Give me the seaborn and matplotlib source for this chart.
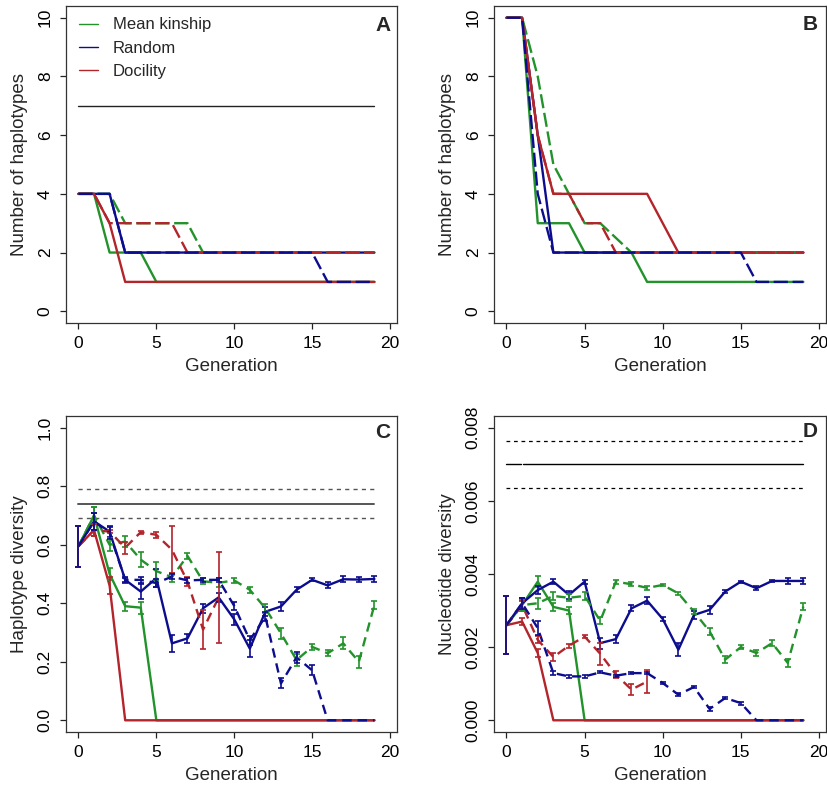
import numpy as np
import pandas as pd
import matplotlib
matplotlib.use("Agg")
import matplotlib.pyplot as plt
from matplotlib.lines import Line2D
import seaborn as sns

# ---------------------------------------------------------------- data
generation = list(range(20))
strategies = ["Mean kinship", "Random", "Docility"]
colors = {"Mean kinship": "#22922B", "Random": "#0C0C8E", "Docility": "#B3242B"}

# Panel A: number of haplotypes (solid / dashed scenarios)
hapA_kinship_solid = [4, 4, 2, 2, 2, 1, 1, 1, 1, 1, 1, 1, 1, 1, 1, 1, 1, 1, 1, 1]
hapA_random_solid = [4, 4, 4, 2, 2, 2, 2, 2, 2, 2, 2, 2, 2, 2, 2, 2, 2, 2, 2, 2]
hapA_docility_solid = [4, 4, 3, 1, 1, 1, 1, 1, 1, 1, 1, 1, 1, 1, 1, 1, 1, 1, 1, 1]
hapA_kinship_dashed = [4, 4, 4, 3, 3, 3, 3, 3, 2, 2, 2, 2, 2, 2, 2, 2, 2, 2, 2, 2]
hapA_random_dashed = [4, 4, 4, 2, 2, 2, 2, 2, 2, 2, 2, 2, 2, 2, 2, 2, 1, 1, 1, 1]
hapA_docility_dashed = [4, 4, 3, 3, 3, 3, 3, 2, 2, 2, 2, 2, 2, 2, 2, 2, 2, 2, 2, 2]
hapA_reference = 7

# Panel B: number of haplotypes
hapB_kinship_solid = [10, 10, 3, 3, 3, 2, 2, 2, 2, 1, 1, 1, 1, 1, 1, 1, 1, 1, 1, 1]
hapB_random_solid = [10, 10, 6, 2, 2, 2, 2, 2, 2, 2, 2, 2, 2, 2, 2, 2, 2, 2, 2, 2]
hapB_docility_solid = [10, 10, 6, 4, 4, 4, 4, 4, 4, 4, 3, 2, 2, 2, 2, 2, 2, 2, 2, 2]
hapB_kinship_dashed = [10, 10, 8, 5, 4, 3, 3, 2.5, 2, 2, 2, 2, 2, 2, 2, 2, 2, 2, 2, 2]
hapB_random_dashed = [10, 10, 4, 2, 2, 2, 2, 2, 2, 2, 2, 2, 2, 2, 2, 2, 1, 1, 1, 1]
hapB_docility_dashed = [10, 10, 6, 4, 4, 3, 3, 2, 2, 2, 2, 2, 2, 2, 2, 2, 2, 2, 2, 2]

# Panel C: haplotype diversity (mean and error)
hdC_reference = 0.74
hdC_reference_low = 0.69
hdC_reference_high = 0.79
hdC_kinship_solid = [0.595, 0.70, 0.50, 0.39, 0.385, 0, 0, 0, 0, 0, 0, 0, 0, 0, 0, 0, 0, 0, 0, 0]
hdC_kinship_solid_err = [0.07, 0.03, 0.02, 0.015, 0.02, 0, 0, 0, 0, 0, 0, 0, 0, 0, 0, 0, 0, 0, 0, 0]
hdC_random_solid = [0.595, 0.68, 0.645, 0.48, 0.44, 0.486, 0.263, 0.28, 0.383, 0.42,
                    0.345, 0.245, 0.371, 0.389, 0.446, 0.48, 0.461, 0.482, 0.481, 0.483]
hdC_random_solid_err = [0.07, 0.03, 0.02, 0.01, 0.025, 0.03, 0.03, 0.015, 0.015, 0.015,
                        0.02, 0.03, 0.015, 0.015, 0.008, 0.005, 0.01, 0.01, 0.01, 0.01]
hdC_docility_solid = [0.595, 0.65, 0.46, 0, 0, 0, 0, 0, 0, 0, 0, 0, 0, 0, 0, 0, 0, 0, 0, 0]
hdC_docility_solid_err = [0.07, 0.02, 0.03, 0, 0, 0, 0, 0, 0, 0, 0, 0, 0, 0, 0, 0, 0, 0, 0, 0]
hdC_kinship_dashed = [0.595, 0.70, 0.60, 0.611, 0.549, 0.51, 0.489, 0.562, 0.475, 0.47,
                      0.478, 0.446, 0.383, 0.297, 0.206, 0.251, 0.229, 0.263, 0.20, 0.394]
hdC_kinship_dashed_err = [0.07, 0.03, 0.023, 0.02, 0.025, 0.03, 0.015, 0.01, 0.01, 0.015,
                          0.008, 0.01, 0.015, 0.02, 0.02, 0.01, 0.01, 0.02, 0.02, 0.015]
hdC_random_dashed = [0.595, 0.68, 0.64, 0.48, 0.48, 0.469, 0.491, 0.478, 0.48, 0.48,
                     0.391, 0.274, 0.354, 0.126, 0.215, 0.171, 0, 0, 0, 0]
hdC_random_dashed_err = [0.07, 0.03, 0.02, 0.008, 0.01, 0.015, 0.008, 0.008, 0.006, 0.008,
                         0.015, 0.015, 0.015, 0.017, 0.02, 0.017, 0, 0, 0, 0]
hdC_docility_dashed = [0.595, 0.65, 0.645, 0.59, 0.643, 0.634, 0.583, 0.474, 0.31, 0.42,
                       np.nan, np.nan, np.nan, np.nan, np.nan, np.nan, np.nan, np.nan, np.nan, np.nan]
hdC_docility_dashed_err = [0.07, 0.02, 0.005, 0.02, 0.005, 0.01, 0.08, 0.015, 0.068, 0.155,
                           0, 0, 0, 0, 0, 0, 0, 0, 0, 0]

# Panel D: nucleotide diversity (x 1e-3, mean and error)
ndD_reference = 7.0
ndD_reference_low = 6.35
ndD_reference_high = 7.65
ndD_kinship_solid = [2.6, 3.15, 3.79, 3.1, 3.0, 0, 0, 0, 0, 0, 0, 0, 0, 0, 0, 0, 0, 0, 0, 0]
ndD_kinship_solid_err = [0.8, 0.15, 0.15, 0.1, 0.1, 0, 0, 0, 0, 0, 0, 0, 0, 0, 0, 0, 0, 0, 0, 0]
ndD_random_solid = [2.6, 3.2, 3.56, 3.79, 3.43, 3.79, 2.11, 2.22, 3.06, 3.27,
                    2.77, 1.93, 2.88, 3.02, 3.52, 3.79, 3.61, 3.81, 3.81, 3.81]
ndD_random_solid_err = [0.8, 0.15, 0.1, 0.06, 0.1, 0.05, 0.15, 0.12, 0.08, 0.1,
                        0.05, 0.17, 0.1, 0.1, 0.05, 0.03, 0.06, 0.03, 0.08, 0.08]
ndD_docility_solid = [2.6, 2.7, 1.84, 0, 0, 0, 0, 0, 0, 0, 0, 0, 0, 0, 0, 0, 0, 0, 0, 0]
ndD_docility_solid_err = [0.8, 0.1, 0.1, 0, 0, 0, 0, 0, 0, 0, 0, 0, 0, 0, 0, 0, 0, 0, 0, 0]
ndD_kinship_dashed = [2.6, 3.15, 3.2, 3.4, 3.35, 3.4, 2.72, 3.79, 3.72, 3.62,
                      3.70, 3.47, 2.97, 2.43, 1.66, 2.0, 1.84, 2.11, 1.57, 3.11]
ndD_kinship_dashed_err = [0.8, 0.15, 0.15, 0.12, 0.1, 0.1, 0.1, 0.05, 0.05, 0.05,
                          0.03, 0.05, 0.07, 0.1, 0.1, 0.05, 0.07, 0.08, 0.1, 0.1]
ndD_random_dashed = [2.6, 3.2, 2.52, 1.29, 1.2, 1.2, 1.31, 1.22, 1.29, 1.29,
                     1.02, 0.70, 0.91, 0.31, 0.61, 0.47, 0, 0, 0, 0]
ndD_random_dashed_err = [0.8, 0.15, 0.2, 0.05, 0.04, 0.04, 0.03, 0.03, 0.03, 0.03,
                         0.04, 0.04, 0.03, 0.05, 0.03, 0.04, 0, 0, 0, 0]
ndD_docility_dashed = [2.6, 3.15, 2.2, 1.73, 2.04, 2.29, 1.82, 1.25, 0.84, 1.06,
                       np.nan, np.nan, np.nan, np.nan, np.nan, np.nan, np.nan, np.nan, np.nan, np.nan]
ndD_docility_dashed_err = [0.8, 0.1, 0.1, 0.1, 0.05, 0.05, 0.3, 0.1, 0.15, 0.32,
                           0, 0, 0, 0, 0, 0, 0, 0, 0, 0]

# ---------------------------------------------------------------- style
sns.set_style("ticks")
plt.rcParams["font.family"] = ["Liberation Sans", "DejaVu Sans"]
plt.rcParams["axes.edgecolor"] = "#333333"
plt.rcParams["axes.linewidth"] = 0.9

LABEL_SIZE = 13.5
TICK_SIZE = 12.5
LW = 1.7

fig = plt.figure(figsize=(8.28, 7.91), dpi=100)
W, H = 828.0, 791.0


def add_panel(left, top, right, bottom):
    return fig.add_axes([left / W, 1 - bottom / H, (right - left) / W, (bottom - top) / H])


axA = add_panel(66, 6, 397, 323)
axB = add_panel(494, 6, 826, 323)
axC = add_panel(66, 416, 397, 732)
axD = add_panel(494, 416, 826, 732)


def draw_series(ax, values, color, dashed, err=None, scale=1.0, dash=(5, 2)):
    y = np.asarray(values, dtype=float) * scale
    df = pd.DataFrame({"Generation": generation, "value": y})
    ls = (0, dash) if dashed else "-"
    sns.lineplot(data=df, x="Generation", y="value", color=color, lw=LW,
                 linestyle=ls, estimator=None, sort=False, ax=ax)
    if err is not None:
        e = np.asarray(err, dtype=float) * scale
        keep = (e > 0) & ~np.isnan(y)
        x = np.asarray(generation)[keep]
        ax.errorbar(x, y[keep], yerr=e[keep], fmt="none", ecolor=color,
                    elinewidth=1.2, capsize=2.2, capthick=1.2, zorder=3)


def style_axes(ax, ylim, yticks, yticklabels, ylabel, letter, letter_xy):
    ax.set_xlim(-0.8, 20.45)
    ax.set_ylim(*ylim)
    ax.set_xticks([0, 5, 10, 15, 20])
    ax.set_yticks(yticks)
    ax.set_yticklabels(yticklabels)
    for lbl in ax.get_yticklabels():
        lbl.set_rotation(90)
        lbl.set_va("center")
    ax.tick_params(axis="both", direction="out", length=4.5, width=0.9,
                   labelsize=TICK_SIZE, pad=5, colors="#222222", labelcolor="black")
    ax.set_xlabel("Generation", fontsize=LABEL_SIZE, labelpad=5)
    ax.set_ylabel(ylabel, fontsize=LABEL_SIZE, labelpad=7)
    for sp in ax.spines.values():
        sp.set_visible(True)
    ax.text(letter_xy[0], letter_xy[1], letter, transform=ax.transAxes,
            ha="right", va="top", fontsize=15, fontweight="bold")


# ---------------------------------------------------------------- panel A
axA.plot([0, 19], [hapA_reference, hapA_reference], color="#222222", lw=1.0)
draw_series(axA, hapA_kinship_solid, colors["Mean kinship"], False)
draw_series(axA, hapA_random_solid, colors["Random"], False)
draw_series(axA, hapA_docility_solid, colors["Docility"], False)
draw_series(axA, hapA_kinship_dashed, colors["Mean kinship"], True, dash=(6, 2))
draw_series(axA, hapA_docility_dashed, colors["Docility"], True, dash=(6, 2))
draw_series(axA, hapA_random_dashed, colors["Random"], True, dash=(6, 2))
style_axes(axA, (-0.4, 10.4), [0, 2, 4, 6, 8, 10], ["0", "2", "4", "6", "8", "10"],
           "Number of haplotypes", "A", (0.982, 0.968))
handles = [Line2D([], [], color=colors[s], lw=1.0) for s in strategies]
axA.legend(handles, strategies, loc="upper left", bbox_to_anchor=(0.02, 0.985),
           frameon=False, fontsize=12, handlelength=1.1, handletextpad=0.9,
           labelspacing=0.5, borderaxespad=0)

# ---------------------------------------------------------------- panel B
draw_series(axB, hapB_kinship_solid, colors["Mean kinship"], False)
draw_series(axB, hapB_random_solid, colors["Random"], False)
draw_series(axB, hapB_docility_solid, colors["Docility"], False)
draw_series(axB, hapB_kinship_dashed, colors["Mean kinship"], True, dash=(6, 2))
draw_series(axB, hapB_docility_dashed, colors["Docility"], True, dash=(6, 2))
draw_series(axB, hapB_random_dashed, colors["Random"], True, dash=(6, 2))
style_axes(axB, (-0.4, 10.4), [0, 2, 4, 6, 8, 10], ["0", "2", "4", "6", "8", "10"],
           "Number of haplotypes", "B", (0.976, 0.972))

# ---------------------------------------------------------------- panel C
for level, ls, lw in [(hdC_reference_high, (0, (3, 3)), 1.0),
                      (hdC_reference, "-", 1.4),
                      (hdC_reference_low, (0, (3, 3)), 1.0)]:
    axC.plot([0, 19], [level, level], color="#555555", lw=lw, linestyle=ls)
draw_series(axC, hdC_kinship_solid, colors["Mean kinship"], False, hdC_kinship_solid_err)
draw_series(axC, hdC_random_solid, colors["Random"], False, hdC_random_solid_err)
draw_series(axC, hdC_docility_solid, colors["Docility"], False, hdC_docility_solid_err)
draw_series(axC, hdC_kinship_dashed, colors["Mean kinship"], True, hdC_kinship_dashed_err, dash=(4, 2.5))
draw_series(axC, hdC_docility_dashed, colors["Docility"], True, hdC_docility_dashed_err, dash=(4, 2.5))
draw_series(axC, hdC_random_dashed, colors["Random"], True, hdC_random_dashed_err, dash=(4, 2.5))
style_axes(axC, (-0.04, 1.04), [0, 0.2, 0.4, 0.6, 0.8, 1.0],
           ["0.0", "0.2", "0.4", "0.6", "0.8", "1.0"],
           "Haplotype diversity", "C", (0.979, 0.978))

# ---------------------------------------------------------------- panel D
S = 1e-3
axD.plot([0, 19], [ndD_reference_high * S] * 2, color="black", lw=0.9, linestyle=(0, (3, 3)))
axD.plot([0, 0.9], [ndD_reference * S] * 2, color="black", lw=1.0)
axD.plot([1.05, 19], [ndD_reference * S] * 2, color="black", lw=1.0)
axD.plot([0, 19], [ndD_reference_low * S] * 2, color="black", lw=0.9, linestyle=(0, (3, 3)))
draw_series(axD, ndD_kinship_solid, colors["Mean kinship"], False, ndD_kinship_solid_err, S)
draw_series(axD, ndD_random_solid, colors["Random"], False, ndD_random_solid_err, S)
draw_series(axD, ndD_docility_solid, colors["Docility"], False, ndD_docility_solid_err, S)
draw_series(axD, ndD_kinship_dashed, colors["Mean kinship"], True, ndD_kinship_dashed_err, S, dash=(4, 2.5))
draw_series(axD, ndD_docility_dashed, colors["Docility"], True, ndD_docility_dashed_err, S, dash=(4, 2.5))
draw_series(axD, ndD_random_dashed, colors["Random"], True, ndD_random_dashed_err, S, dash=(4, 2.5))
style_axes(axD, (-0.00032, 0.00832), [0, 0.002, 0.004, 0.006, 0.008],
           ["0.000", "0.002", "0.004", "0.006", "0.008"],
           "Nucleotide diversity", "D", (0.976, 0.981))

fig.savefig("out.png", dpi=100)
